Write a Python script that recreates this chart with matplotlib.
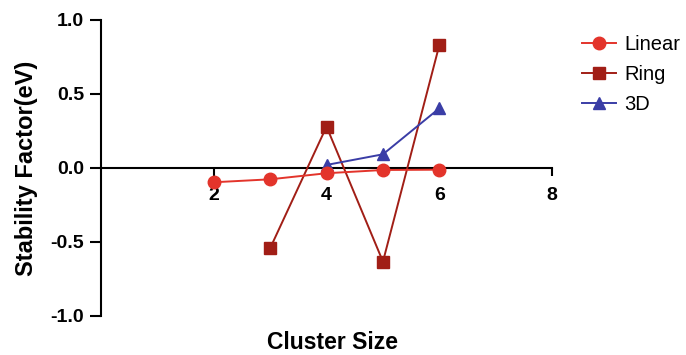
import matplotlib.pyplot as plt
import matplotlib

matplotlib.rcParams['font.family'] = ['Liberation Sans', 'DejaVu Sans']

# stability factor per cluster size
linear_x = [2, 3, 4, 5, 6]
linear_y = [-0.097, -0.077, -0.036, -0.014, -0.012]
ring_x = [3, 4, 5, 6]
ring_y = [-0.543, 0.279, -0.633, 0.831]
td_x = [4, 5, 6]
td_y = [0.02, 0.092, 0.403]

x_ticks = [2, 4, 6, 8]
y_ticks = [-1.0, -0.5, 0.0, 0.5, 1.0]

fig = plt.figure(figsize=(6.86, 3.55), dpi=100)
ax = fig.add_axes([0.147, 0.110, 0.658, 0.834])

ax.plot(linear_x, linear_y, color='#E3342B', marker='o', markersize=9,
        linewidth=1.4, label='Linear', zorder=4)
ax.plot(ring_x, ring_y, color='#A11E16', marker='s', markersize=8.5,
        linewidth=1.4, label='Ring', zorder=3)
ax.plot(td_x, td_y, color='#3A3DA6', marker='^', markersize=9,
        linewidth=1.4, label='3D', zorder=3)

ax.set_xlim(0, 8)
ax.set_ylim(-1.0, 1.0)

# x axis runs through zero, y axis on the left
ax.spines['bottom'].set_position(('data', 0))
ax.spines['top'].set_visible(False)
ax.spines['right'].set_visible(False)
ax.spines['left'].set_linewidth(1.5)
ax.spines['bottom'].set_linewidth(1.5)
ax.spines['left'].set_bounds(-1.0, 1.0)

ax.set_xticks(x_ticks)
ax.set_yticks(y_ticks)
ax.set_yticklabels([f'{v:.1f}' for v in y_ticks])
ax.tick_params(axis='y', direction='out', length=8, width=1.5,
               labelsize=14, pad=4)
ax.tick_params(axis='x', direction='out', length=6, width=1.5,
               labelsize=14, pad=8)
for lbl in ax.get_xticklabels() + ax.get_yticklabels():
    lbl.set_fontweight('bold')

ax.set_ylabel('Stability Factor(eV)', fontsize=17, fontweight='bold', labelpad=9)
fig.text(0.484, 0.036, 'Cluster Size', fontsize=16.5, fontweight='bold',
         ha='center', va='center')

ax.legend(loc='upper left', bbox_to_anchor=(1.025, 1.01), frameon=False,
          fontsize=14.5, handlelength=1.7, handletextpad=0.4, labelspacing=0.55)

fig.savefig('out.png', dpi=100)
